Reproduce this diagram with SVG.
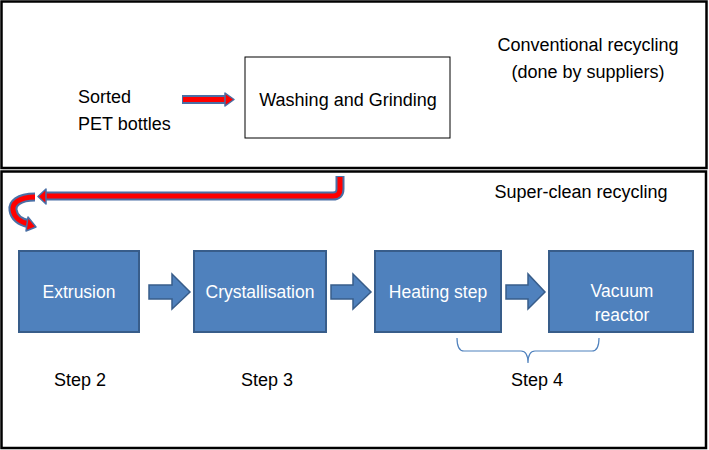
<svg xmlns="http://www.w3.org/2000/svg" width="709" height="450" viewBox="0 0 709 450">
<style>
text{font-family:"Liberation Sans",Arial,sans-serif;font-size:18px;fill:#000}
.frame{fill:#fff;stroke:#000;stroke-width:2.5}
.box{fill:#4f81bd;stroke:#385d8a;stroke-width:2}
.wt{fill:#fff;text-anchor:middle;font-size:17.5px}
.mid{text-anchor:middle}
.blk{fill:#4f81bd;stroke:#385d8a;stroke-width:1.5}
.rout{fill:none;stroke:#4a6fa5;stroke-width:9}
.rin{fill:none;stroke:#ff0000;stroke-width:5}
.rhead{fill:#ff0000;stroke:#4a6fa5;stroke-width:1.5;stroke-linejoin:round}
</style>
<rect width="709" height="450" fill="#fff"/>
<g id="panel-conventional">
<rect class="frame" x="1.5" y="1.5" width="705" height="166.5"/>
<text class="mid" x="588" y="51">Conventional recycling</text>
<text class="mid" x="588" y="78">(done by suppliers)</text>
</g>
<g id="panel-superclean">
<rect class="frame" x="1.5" y="171.5" width="704.5" height="276.5"/>
<text class="mid" x="581" y="198">Super-clean recycling</text>
</g>
<g id="sorted">
<text x="78" y="103">Sorted</text>
<text x="78" y="130">PET bottles</text>
</g>
<g id="washing">
<rect x="245" y="57" width="205" height="81" fill="#fff" stroke="#000" stroke-width="1"/>
<text class="mid" x="348" y="106">Washing and Grinding</text>
</g>
<g id="extrusion">
<rect class="box" x="19" y="251" width="120" height="81"/>
<text class="wt" x="79" y="298">Extrusion</text>
</g>
<g id="crystallisation">
<rect class="box" x="194" y="251" width="132" height="81"/>
<text class="wt" x="260" y="298">Crystallisation</text>
</g>
<g id="heating">
<rect class="box" x="375" y="251" width="126" height="81"/>
<text class="wt" x="438" y="298">Heating step</text>
</g>
<g id="vacuum">
<rect class="box" x="549" y="251" width="144" height="81"/>
<text class="wt" x="622" y="297">Vacuum</text>
<text class="wt" x="622" y="321">reactor</text>
</g>
<g id="steps">
<text class="mid" x="80" y="386">Step 2</text>
<text class="mid" x="267" y="386">Step 3</text>
<text class="mid" x="537" y="386">Step 4</text>
</g>
<g id="connectors">
<path class="rout" d="M182,99.5 H226"/>
<path class="rin" d="M183,99.5 H227"/>
<polygon class="rhead" points="225,93 234,99.5 225,106"/>
<path class="rout" d="M340,176 V189 Q340,196 333,196 H44"/>
<path class="rin" d="M340,177 V189 Q340,196 333,196 H45"/>
<polygon class="rhead" points="46,189 38,196.5 46,204"/>
<path class="rout" d="M35,197 C18,197 12,204 13,210 C14,217 20,222 28,223.5"/>
<path class="rin" d="M35,197 C18,197 12,204 13,210 C14,217 20,222 28,223.5"/>
<polygon class="rhead" points="28,217 36,227 26,231"/>
<polygon class="blk" points="149,285 172,285 172,274 190,292 172,309 172,299 149,299"/>
<polygon class="blk" points="331,285 353,285 353,274 371,292 353,309 353,299 331,299"/>
<polygon class="blk" points="506,285 528,285 528,274 545,292 528,309 528,299 506,299"/>
<path d="M457,338 Q457,351 464,351 H521 Q528,351 528,363 Q528,351 535,351 H592 Q599,351 599,338" fill="none" stroke="#4f81bd" stroke-width="1.2"/>
</g>
</svg>
